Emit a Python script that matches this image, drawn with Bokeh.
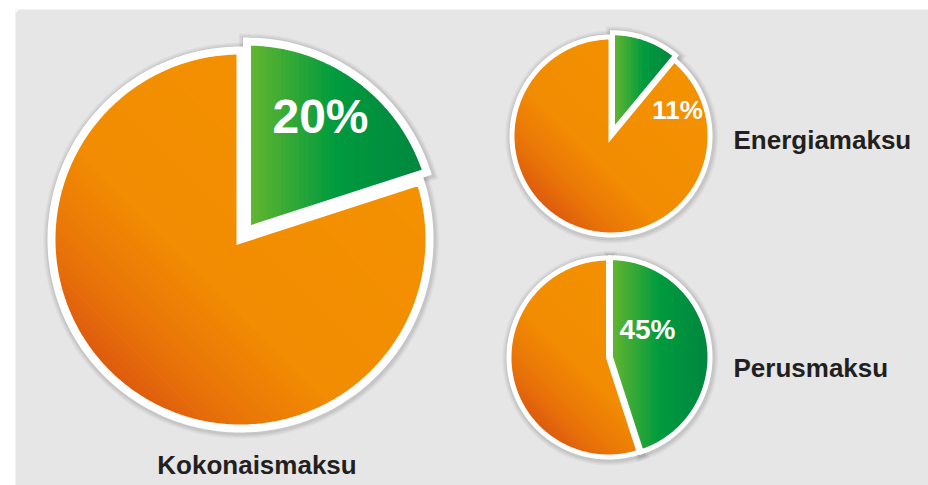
import numpy as np
from bokeh.plotting import figure
from bokeh.models import Range1d
from bokeh.embed import file_html
from bokeh.resources import INLINE
from bokeh.core.properties import value

# ---------------- data ----------------
titles = ["Kokonaismaksu", "Energiamaksu", "Perusmaksu"]
green_pct = [20, 11, 45]
pct_labels = ["20%", "11%", "45%"]

# ---------------- layout (pixels, y downward) ----------------
centers = [(240, 239), (610.5, 135.5), (608, 357)]
radii = [189, 99, 99.5]
strokes = [8, 5, 5]
explode = [11, 4.5, 2]
pct_font = ["48px", "26px", "28px"]
pct_pos = [(320, 115.5), (677, 109.7), (647, 328.8)]
title_pos = [(256.5, 464, "center"), (733, 139, "left"), (733, 367, "left")]

ORANGE_STOPS = [(-1.0, "#dc580f"), (-0.7, "#e87209"), (-0.25, "#f28c02"), (1.0, "#f39200")]
GREEN_STOPS = [(0.0, "#69b72f"), (0.5, "#009b3e"), (1.0, "#00863f")]


def hex2rgb(h):
    h = h.lstrip("#")
    return np.array([int(h[i:i + 2], 16) for i in (0, 2, 4)], dtype=float)


def color_at(stops, t):
    if t <= stops[0][0]:
        c = hex2rgb(stops[0][1])
    elif t >= stops[-1][0]:
        c = hex2rgb(stops[-1][1])
    else:
        for (t0, c0), (t1, c1) in zip(stops[:-1], stops[1:]):
            if t0 <= t <= t1:
                s = (t - t0) / (t1 - t0)
                c = hex2rgb(c0) * (1 - s) + hex2rgb(c1) * s
                break
    return "#%02x%02x%02x" % tuple(int(round(v)) for v in c)


def clip(poly, f):
    out = []
    n = len(poly)
    for i in range(n):
        P = poly[i]
        Q = poly[(i + 1) % n]
        fp, fq = f(P), f(Q)
        if fp >= 0:
            out.append(P)
        if (fp >= 0) != (fq >= 0):
            s = fp / (fp - fq)
            out.append((P[0] + s * (Q[0] - P[0]), P[1] + s * (Q[1] - P[1])))
    return out


def wedge(cx, cy, r, a0, a1, n=240):
    # angles in degrees, math convention, screen y downward
    ang = np.radians(np.linspace(a0, a1, n))
    pts = [(cx, cy)] + [(cx + r * np.cos(a), cy - r * np.sin(a)) for a in ang]
    return pts


def strips(poly, tfun, tmin, tmax, n, stops, overlap):
    xs, ys, cols = [], [], []
    edges = np.linspace(tmin, tmax, n + 1)
    for k in range(n):
        t0, t1 = edges[k], edges[k + 1]
        lo = t0 - overlap if k > 0 else -1e9
        hi = t1 if k < n - 1 else 1e9
        piece = clip(poly, lambda p: tfun(p) - lo)
        piece = clip(piece, lambda p: hi - tfun(p))
        if len(piece) < 3:
            continue
        xs.append([q[0] for q in piece])
        ys.append([q[1] for q in piece])
        cols.append(color_at(stops, 0.5 * (t0 + t1)))
    return xs, ys, cols


p = figure(width=928, height=485, x_range=Range1d(15, 928), y_range=Range1d(485, 9),
           output_backend="svg", toolbar_location=None,
           x_axis_type=None, y_axis_type=None)
p.min_border_left = 15
p.min_border_top = 9
p.min_border_right = 0
p.min_border_bottom = 0
p.grid.visible = False
p.outline_line_color = None
p.background_fill_color = "#e6e6e6"
p.border_fill_color = "white"

# rounded top-left corner of the panel
p.quad(left=[15], right=[21], top=[9], bottom=[15], fill_color="white", line_color=None)
p.circle(x=[21], y=[15], radius=6, fill_color="#e6e6e6", line_color=None)

for i in range(len(titles)):
    cx, cy = centers[i]
    r = radii[i]
    sw = strokes[i]
    span = 360.0 * green_pct[i] / 100.0
    g0, g1 = 90.0, 90.0 - span
    bis = np.radians(90.0 - span / 2)
    ex, ey = explode[i] * np.cos(bis), -explode[i] * np.sin(bis)

    orange = wedge(cx, cy, r, g1, -270.0, 360)
    green = wedge(cx + ex, cy + ey, r, g0, g1, max(30, int(span * 2)))

    # soft shadow
    for w, a in [(10, 0.035), (7, 0.045), (4, 0.06)]:
        for poly in (orange, green):
            p.patches(xs=[[q[0] + 0.7 for q in poly]], ys=[[q[1] + 1.0 for q in poly]],
                      fill_color=None, line_color="black", line_alpha=a,
                      line_width=sw + w, line_join="miter")

    # orange gradient (bottom-left dark -> top-right)
    def t_or(pt, cx=cx, cy=cy, r=r):
        return ((pt[0] - cx) - (pt[1] - cy)) / (np.sqrt(2) * r)
    xs, ys, cols = strips(orange, t_or, -1.0, 1.0, 60, ORANGE_STOPS, 0.02)
    p.patches(xs=xs, ys=ys, fill_color=cols, line_color=None)

    # green gradient (horizontal)
    gx = [q[0] for q in green]
    xmin, xmax = min(gx), max(gx)

    def t_gr(pt, xmin=xmin, xmax=xmax):
        return (pt[0] - xmin) / (xmax - xmin)
    xs, ys, cols = strips(green, t_gr, 0.0, 1.0, 40, GREEN_STOPS, 0.01)
    p.patches(xs=xs, ys=ys, fill_color=cols, line_color=None)

    # white outlines
    for poly in (orange, green):
        p.patches(xs=[[q[0] for q in poly]], ys=[[q[1] for q in poly]],
                  fill_color=None, line_color="white", line_width=sw, line_join="miter")

    # percentage label
    p.text(x=[pct_pos[i][0]], y=[pct_pos[i][1]], text=[pct_labels[i]],
           text_font=value("Liberation Sans"), text_font_style="bold",
           text_font_size=value(pct_font[i]), text_color="white",
           text_align="center", text_baseline="middle")

    # title
    tx, ty, al = title_pos[i]
    p.text(x=[tx], y=[ty], text=[titles[i]],
           text_font=value("Liberation Sans"), text_font_style="bold",
           text_font_size=value("26px"), text_color="#231f20",
           text_align=al, text_baseline="middle")

open("out.html", "w").write(file_html(p, INLINE))
